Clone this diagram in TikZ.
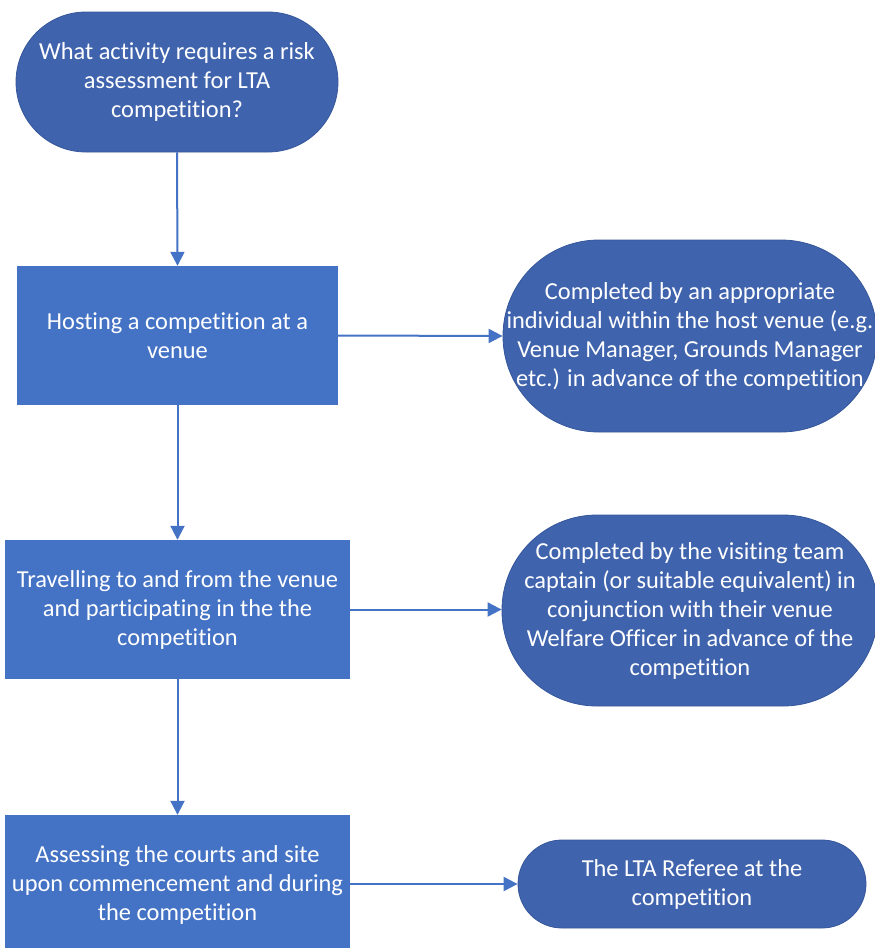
\documentclass[tikz,border=0pt]{standalone}
\usepackage{fontspec}
\setmainfont[RawFeature={-liga;-clig;-dlig}]{Carlito}
\usetikzlibrary{arrows.meta}
\definecolor{rectblue}{HTML}{4472C4}
\definecolor{termblue}{HTML}{3F63AD}
\definecolor{termedge}{HTML}{35569A}
\tikzset{
  x=1pt, y=-1pt,
  txt/.style={text=white, align=center, font=\fontsize{24.4}{29}\selectfont, inner sep=0pt},
  procbox/.style={txt, fill=rectblue, draw=none, rectangle},
  term/.style={txt, fill=termblue, draw=termedge, line width=0.8pt, rectangle},
  conn/.style={draw=rectblue, line width=2pt, -{Triangle[length=14pt,width=14pt]}}
}
\begin{document}
\begin{tikzpicture}
\useasboundingbox (0,0) rectangle (875,948);
\node[term, minimum width=322pt, minimum height=140pt, rounded corners=70pt] (q) at (177,82)
  {What activity requires a risk\\assessment for LTA\\competition?};
\node[procbox, minimum width=321pt, minimum height=139pt] (h) at (177.5,335.5)
  {Hosting a competition at a\\venue};
\node[procbox, minimum width=345pt, minimum height=139pt] (t) at (177.5,609.5)
  {Travelling to and from the venue\\and participating in the the\\competition};
\node[procbox, minimum width=345pt, minimum height=140pt] (a) at (177.5,885)
  {Assessing the courts and site\\upon commencement and during\\the competition};
\node[term, minimum width=374pt, minimum height=192pt, rounded corners=96pt] (e1) at (690,336)
  {Completed by an appropriate\\individual within the host venue (e.g.\\Venue Manager, Grounds Manager\\etc.) in advance of the competition};
\node[term, minimum width=376pt, minimum height=191pt, rounded corners=95pt] (e2) at (690,610.5)
  {Completed by the visiting team\\captain (or suitable equivalent) in\\conjunction with their venue\\Welfare Officer in advance of the\\competition};
\node[term, minimum width=348pt, minimum height=88pt, rounded corners=44pt] (r) at (692,884)
  {The LTA Referee at the\\competition};
\draw[conn] (q.south) -- (h.north);
\draw[conn] (h.south) -- (t.north);
\draw[conn] (t.south) -- (a.north);
\draw[conn] (h.east) -- (e1.west);
\draw[conn] (t.east) -- (t.east -| e2.west);
\draw[conn] (a.east |- r.west) -- (r.west);
\end{tikzpicture}
\end{document}
